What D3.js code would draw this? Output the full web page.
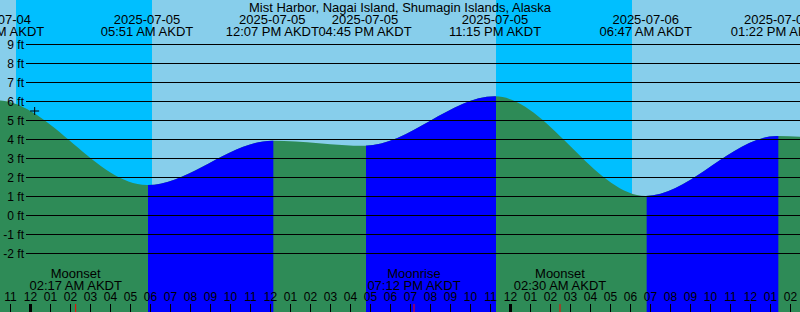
<!DOCTYPE html>
<html>
<head>
<meta charset="utf-8">
<script src="https://cdn.jsdelivr.net/npm/d3@7"></script>
<style>
  body { margin: 0; padding: 0; background: #fff; }
  svg { display: block; font-family: "Liberation Sans", Arial, sans-serif; }
</style>
</head>
<body>
<div id="chart"></div>
<script>
// tide extremes (AKDT), first and last lie outside the visible window
const tideTimes = ["2025-07-04 15:50", "2025-07-04 22:23", "2025-07-05 05:51", "2025-07-05 12:07",
  "2025-07-05 16:45", "2025-07-05 23:15", "2025-07-06 06:47", "2025-07-06 13:22", "2025-07-06 17:50"];
const tideFeet = [3.6, 6.05, 1.6, 3.94, 3.67, 6.27, 1.03, 4.18, 3.75];

// night intervals (sunset -> sunrise)
const nightStart = ["2025-07-04 23:18", "2025-07-05 23:18"];
const nightEnd = ["2025-07-05 06:06", "2025-07-06 06:06"];

// moon events
const moonTimes = ["2025-07-05 02:17", "2025-07-05 19:12", "2025-07-06 02:30"];
const moonNames = ["Moonset", "Moonrise", "Moonset"];

// y ticks (ft)
const feetTicks = [-2, -1, 0, 1, 2, 3, 4, 5, 6, 7, 8, 9];

// marker
const markTime = "2025-07-05 00:14";
const markFeet = 5.5;

const title = "Mist Harbor, Nagai Island, Shumagin Islands, Alaska";

const width = 800, height = 312;
const parse = d3.timeParse("%Y-%m-%d %H:%M");
const fmtDate = d3.timeFormat("%Y-%m-%d");
const fmtTime = d3.timeFormat("%I:%M %p AKDT");

const tides = tideTimes.map((t, i) => ({ t: parse(t), ft: tideFeet[i] }));

// 20px per hour, midnight of 07-05 at x=30
const x = d3.scaleTime()
  .domain([parse("2025-07-05 00:00"), parse("2025-07-06 00:00")])
  .range([30, 30 + 24 * 20]);
const y = d3.scaleLinear().domain([0, 9]).range([215.5, 44.5]);

const svg = d3.select("#chart").append("svg")
  .attr("width", width)
  .attr("height", height)
  .attr("viewBox", [0, 0, width, height]);

// sky: day background, night bands
svg.append("rect").attr("x", 0).attr("y", 0).attr("width", width).attr("height", height)
  .attr("fill", "#87CEEB");
svg.selectAll("rect.night")
  .data(nightStart.map((s, i) => [parse(s), parse(nightEnd[i])]))
  .enter().append("rect")
  .attr("class", "night")
  .attr("x", d => x(d[0]))
  .attr("y", 0)
  .attr("width", d => x(d[1]) - x(d[0]))
  .attr("height", height)
  .attr("fill", "#00BFFF");

// water
const area = d3.area()
  .x(d => x(d.t))
  .y0(height)
  .y1(d => y(d.ft))
  .curve(d3.curveMonotoneX);

svg.append("path").datum(tides).attr("d", area).attr("fill", "#2E8B57");

// rising (flood) parts drawn in blue
const rising = [];
for (let i = 0; i < tides.length - 1; i++) {
  if (tides[i + 1].ft > tides[i].ft) rising.push([tides[i].t, tides[i + 1].t]);
}
const clip = svg.append("clipPath").attr("id", "rise");
clip.selectAll("rect").data(rising).enter().append("rect")
  .attr("x", d => x(d[0]) + 1)
  .attr("y", 0)
  .attr("width", d => x(d[1]) - x(d[0]))
  .attr("height", height);
svg.append("path").datum(tides).attr("d", area).attr("fill", "#0000FF")
  .attr("clip-path", "url(#rise)");

// grid + y labels
svg.selectAll("line.grid").data(feetTicks).enter().append("line")
  .attr("class", "grid")
  .attr("x1", 26).attr("x2", width)
  .attr("y1", d => y(d)).attr("y2", d => y(d))
  .attr("stroke", "#000").attr("stroke-width", 1);
svg.selectAll("text.ft").data(feetTicks).enter().append("text")
  .attr("class", "ft")
  .attr("x", 24)
  .attr("y", d => y(d))
  .attr("dy", "0.36em")
  .attr("text-anchor", "end")
  .attr("font-size", 12)
  .text(d => d + " ft");

// marker
svg.append("path")
  .attr("d", `M${x(parse(markTime)) - 4.5},${y(markFeet)}h9M${x(parse(markTime))},${y(markFeet) - 4}v8`)
  .attr("stroke", "#000").attr("stroke-width", 1).attr("fill", "none");

// title
svg.append("text").attr("x", width / 2).attr("y", 11.5)
  .attr("text-anchor", "middle").attr("font-size", 13).text(title);

// extreme labels (only those near the window)
const lab = svg.selectAll("g.ext").data(tides.filter(d => x(d.t) > -60 && x(d.t) < width + 60))
  .enter().append("g")
  .attr("class", "ext")
  .attr("transform", d => `translate(${x(d.t)},0)`);
lab.append("text").attr("y", 24).attr("text-anchor", "middle").attr("font-size", 13)
  .text(d => fmtDate(d.t));
lab.append("text").attr("y", 36).attr("text-anchor", "middle").attr("font-size", 13)
  .text(d => fmtTime(d.t));

// moon labels
const moon = svg.selectAll("g.moon").data(moonTimes.map((t, i) => ({ t: parse(t), name: moonNames[i] })))
  .enter().append("g")
  .attr("class", "moon")
  .attr("transform", d => `translate(${x(d.t)},0)`);
moon.append("text").attr("y", 277.5).attr("text-anchor", "middle").attr("font-size", 13)
  .text(d => d.name);
moon.append("text").attr("y", 289.5).attr("text-anchor", "middle").attr("font-size", 13)
  .text(d => fmtTime(d.t));

// hour axis
const xFull = x.copy().domain([x.invert(0), x.invert(width)]).range([0, width]);
svg.append("g")
  .attr("transform", `translate(0,${height})`)
  .call(d3.axisTop(xFull).ticks(d3.timeHour.every(1)).tickFormat(d3.timeFormat("%I"))
    .tickSize(8).tickPadding(3).tickSizeOuter(0))
  .call(g => g.select(".domain").remove())
  .call(g => g.selectAll("text").attr("font-size", 12).attr("fill", "#000")
    .attr("font-family", "Liberation Sans, Arial, sans-serif"))
  .call(g => g.selectAll(".tick line").attr("stroke", "#000")
    .attr("stroke-width", d => d.getHours() === 0 ? 3 : 1));

// moon ticks
moon.append("line").attr("y1", height - 8).attr("y2", height)
  .attr("stroke", "#FF0000").attr("stroke-width", 1);
</script>
</body>
</html>
